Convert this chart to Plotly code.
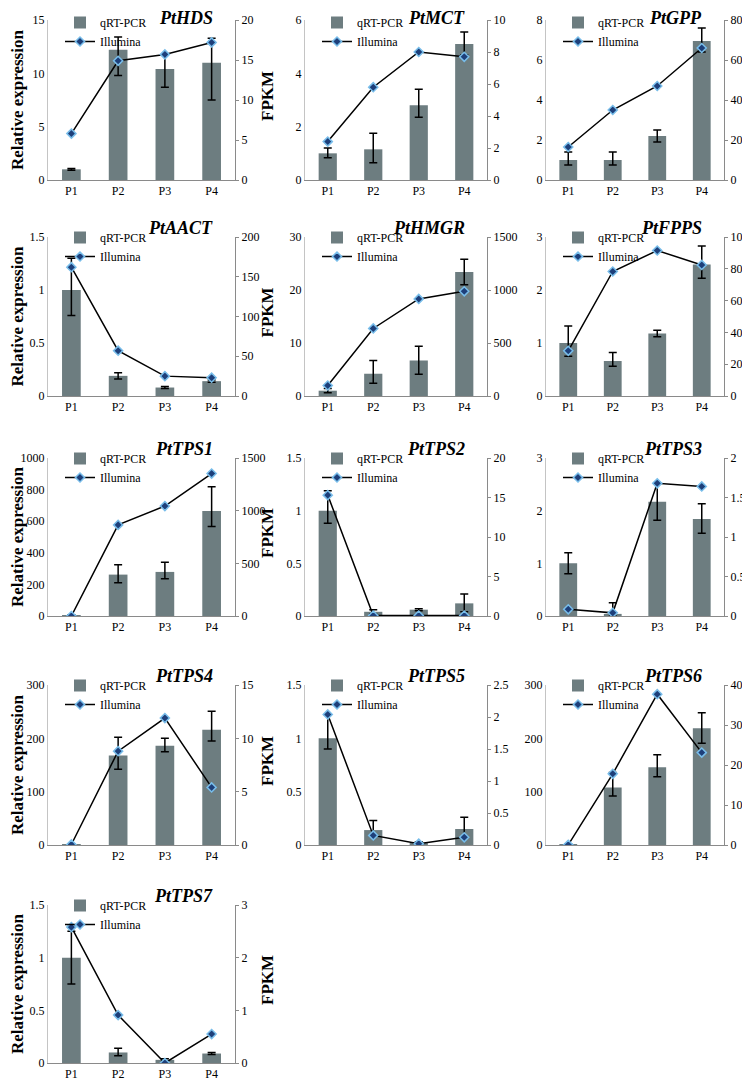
import plotly.graph_objects as go

stages = ['P1', 'P2', 'P3', 'P4']
genes = ['PtHDS', 'PtMCT', 'PtGPP', 'PtAACT', 'PtHMGR', 'PtFPPS', 'PtTPS1',
         'PtTPS2', 'PtTPS3', 'PtTPS4', 'PtTPS5', 'PtTPS6', 'PtTPS7']

# qRT-PCR relative expression (bars) and error bar ends
qrt = [[1.0, 12.2, 10.4, 11.0], [1.0, 1.15, 2.8, 5.1], [1.0, 1.0, 2.2, 6.95],
       [1.0, 0.19, 0.08, 0.14], [1.0, 4.2, 6.7, 23.4], [1.0, 0.66, 1.18, 2.48],
       [5, 262, 279, 665], [1.0, 0.04, 0.06, 0.12], [1.0, 0.04, 2.17, 1.84],
       [1.5, 168, 186, 216], [1.0, 0.14, 0.02, 0.15], [1.5, 108, 146, 219],
       [1.0, 0.1, 0.03, 0.09]]
qrt_hi = [[1.08, 13.4, 11.8, 13.3], [1.2, 1.75, 3.4, 5.55], [1.4, 1.4, 2.5, 7.6],
          [1.3, 0.22, 0.09, 0.15], [1.4, 6.7, 9.4, 25.8], [1.32, 0.82, 1.24, 2.83],
          [8, 325, 340, 818], [1.19, 0.06, 0.07, 0.21], [1.2, 0.25, 2.52, 2.13],
          [2, 202, 200, 251], [1.22, 0.23, 0.03, 0.26], [2, 136, 169, 248],
          [1.25, 0.14, 0.04, 0.1]]
qrt_lo = [[0.92, 9.8, 8.7, 7.5], [0.83, 0.65, 2.35, 4.7], [0.75, 0.75, 1.9, 6.4],
          [0.76, 0.16, 0.07, 0.13], [0.6, 2.4, 4.1, 21.0], [0.75, 0.56, 1.12, 2.22],
          [3, 210, 235, 566], [0.88, 0.02, 0.05, 0.04], [0.8, 0.0, 1.82, 1.57],
          [1, 142, 175, 195], [0.9, 0.09, 0.01, 0.07], [1, 92, 128, 191],
          [0.75, 0.07, 0.02, 0.08]]
# Illumina FPKM (line)
fpkm = [[5.8, 14.9, 15.7, 17.2], [2.4, 5.8, 8.0, 7.7], [16.5, 35, 47, 66],
        [162, 57, 25, 23], [99, 637, 916, 988], [28.4, 78.3, 91.5, 82.4],
        [0, 865, 1044, 1352], [15.3, 0.05, 0.05, 0.05], [0.085, 0.04, 1.68, 1.64],
        [0.05, 8.8, 11.9, 5.4], [2.04, 0.15, 0.02, 0.12], [0.05, 17.8, 37.7, 23.1],
        [2.58, 0.91, 0.0, 0.55]]

left_max = [15, 6, 8, 1.5, 30, 3, 1000, 1.5, 3, 300, 1.5, 300, 1.5]
left_step = [5, 2, 2, 0.5, 10, 1, 200, 0.5, 1, 100, 0.5, 100, 0.5]
right_max = [20, 10, 80, 200, 1500, 100, 1500, 20, 2, 15, 2.5, 40, 3]
right_step = [5, 2, 20, 50, 500, 20, 500, 5, 0.5, 5, 0.5, 10, 1]

# the page body has an 8px margin, so the figure is shrunk and positions offset
OFF = 8
W, H = 750 - OFF, 1085 - OFF
cols = [(48, 235), (305, 487), (546, 724)]
rows = [(20, 180), (237, 396), (458, 616), (685, 845), (905, 1063)]
FONT = 'Liberation Serif'
BAR = '#6d7d80'


def fx(px):
    return (px - OFF) / W


def fy(py):
    return 1 - (py - OFF) / H


fig = go.Figure()
layout = {}
annotations = []

for k, gene in enumerate(genes):
    r, c = divmod(k, 3)
    x0, x1 = cols[c]
    y0, y1 = rows[r]
    n = k + 1
    xa = 'x' if n == 1 else f'x{n}'
    yl = 'y' if k == 0 else f'y{2 * k + 1}'
    yr = f'y{2 * k + 2}'
    leg = 'legend' if n == 1 else f'legend{n}'

    err_p = [h - v for h, v in zip(qrt_hi[k], qrt[k])]
    err_m = [v - l for v, l in zip(qrt[k], qrt_lo[k])]
    fig.add_trace(go.Bar(
        x=stages, y=qrt[k], xaxis=xa, yaxis=yl, width=0.4,
        marker=dict(color=BAR, line=dict(width=0)), name='qRT-PCR', legend=leg,
        error_y=dict(type='data', array=err_p, arrayminus=err_m, color='black',
                     thickness=1.5, width=4)))
    fig.add_trace(go.Scatter(
        x=stages, y=fpkm[k], xaxis=xa, yaxis=yr, mode='lines+markers',
        name='Illumina', legend=leg,
        line=dict(color='black', width=1.5),
        marker=dict(symbol='diamond', size=7, color='#1d3f7a',
                    line=dict(color='#78bdea', width=1.5))))

    layout['xaxis' if n == 1 else f'xaxis{n}'] = dict(
        domain=[fx(x0), fx(x1)], anchor=yl, range=[-0.5, 3.5],
        showline=True, linecolor='#8a8a8a', linewidth=1, ticks='',
        showgrid=False, automargin=False,
        tickfont=dict(family=FONT, size=12, color='black'))
    layout['yaxis' if k == 0 else f'yaxis{2 * k + 1}'] = dict(
        domain=[fy(y1), fy(y0)], anchor=xa,
        range=[0, left_max[k]], dtick=left_step[k], tick0=0,
        showline=True, linecolor='#c4c4c4', linewidth=1, ticks='',
        showgrid=False, zeroline=False, automargin=False,
        tickfont=dict(family=FONT, size=12, color='black'))
    layout[f'yaxis{2 * k + 2}'] = dict(
        overlaying=yl, side='right', anchor=xa,
        range=[0, right_max[k]], dtick=right_step[k], tick0=0,
        showline=True, linecolor='#8a8a8a', linewidth=1,
        ticks='outside', ticklen=3, tickcolor='#8a8a8a',
        showgrid=False, zeroline=False, automargin=False,
        tickfont=dict(family=FONT, size=12, color='black'))
    layout[leg] = dict(
        x=fx(x0 + 12), y=fy(max(y0 - 14, OFF)), xanchor='left', yanchor='top',
        bgcolor='rgba(0,0,0,0)', itemwidth=30, tracegroupgap=0,
        font=dict(family=FONT, size=12, color='black'))

    annotations.append(dict(
        text=f'<b><i>{gene}</i></b>', xref='paper', yref='paper',
        x=fx(x1 - 20), y=fy(max(y0 - 9, OFF + 10)), xanchor='right',
        yanchor='middle', showarrow=False,
        font=dict(family=FONT, size=18, color='black')))

    if c == 0:
        annotations.append(dict(
            text='<b>Relative expression</b>', xref='paper', yref='paper',
            x=fx(17), y=fy((y0 + y1) / 2), textangle=-90,
            xanchor='center', yanchor='middle', showarrow=False,
            font=dict(family=FONT, size=17, color='black')))
        annotations.append(dict(
            text='<b>FPKM</b>', xref='paper', yref='paper',
            x=fx(267), y=fy((y0 + y1 - 8) / 2), textangle=-90,
            xanchor='center', yanchor='middle', showarrow=False,
            font=dict(family=FONT, size=17, color='black')))

fig.update_layout(
    width=W, height=H, margin=dict(l=0, r=0, t=0, b=0, autoexpand=False),
    paper_bgcolor='white', plot_bgcolor='white',
    font=dict(family=FONT, size=12, color='black'),
    annotations=annotations, **layout)

fig.write_html('out.html')
